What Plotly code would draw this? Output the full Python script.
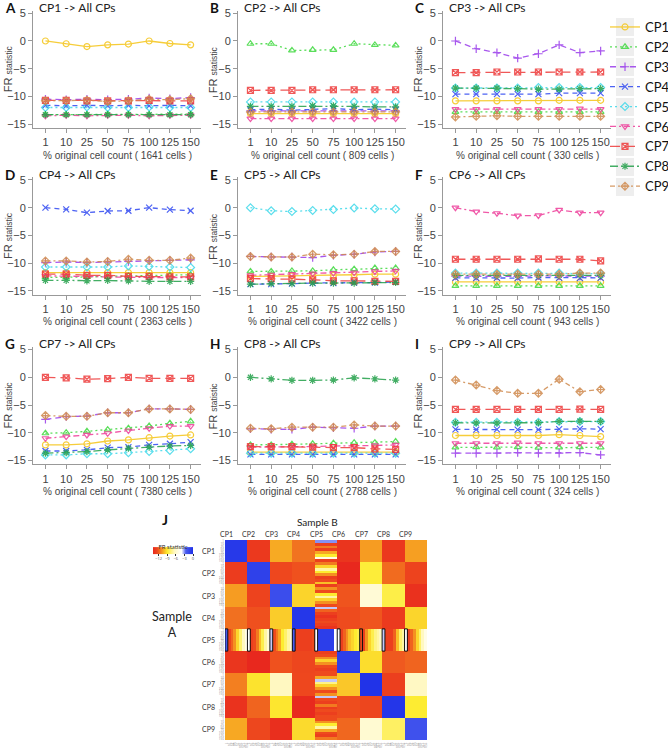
import plotly.graph_objects as go

# ---------------- data ----------------
sizes = ["1", "10", "25", "50", "75", "100", "125", "150"]
cps = ["CP1", "CP2", "CP3", "CP4", "CP5", "CP6", "CP7", "CP8", "CP9"]
cell_counts = [1641, 809, 330, 2363, 3422, 943, 7380, 2788, 324]
panel_letters = ["A", "B", "C", "D", "E", "F", "G", "H", "I"]

# FR statistic: one list per compared CP (CP1..CP9), one value per sample size
cp1_to_all = [
    [0.0, -0.5, -1.0, -0.7, -0.55, 0.0, -0.45, -0.7],
    [-13.3, -13.3, -13.3, -13.2, -13.2, -13.3, -13.3, -13.2],
    [-10.5, -10.6, -10.5, -10.6, -10.5, -10.3, -10.4, -10.2],
    [-11.6, -11.7, -11.6, -11.7, -11.6, -11.7, -11.6, -11.7],
    [-12.0, -12.0, -11.9, -12.0, -12.0, -11.9, -12.0, -12.0],
    [-13.5, -13.4, -13.5, -13.4, -13.4, -13.5, -13.4, -13.4],
    [-10.7, -10.7, -10.8, -10.8, -10.8, -10.7, -10.8, -10.8],
    [-13.3, -13.3, -13.3, -13.3, -13.3, -13.3, -13.3, -13.3],
    [-10.8, -10.8, -10.7, -10.9, -10.8, -10.5, -10.6, -10.4],
]
cp2_to_all = [
    [-13.1, -13.1, -13.1, -13.1, -13.1, -13.1, -13.1, -13.1],
    [-0.5, -0.5, -1.7, -1.6, -1.6, -0.5, -0.7, -0.8],
    [-12.6, -12.6, -12.7, -12.6, -12.6, -12.6, -12.7, -12.6],
    [-12.4, -12.3, -12.5, -12.3, -12.2, -12.4, -12.3, -12.4],
    [-11.0, -11.0, -11.0, -11.0, -11.0, -11.0, -11.0, -11.0],
    [-14.0, -14.0, -14.0, -14.0, -14.0, -14.0, -14.0, -14.0],
    [-8.9, -8.9, -8.9, -8.8, -8.8, -8.8, -8.8, -8.8],
    [-11.8, -11.8, -11.8, -11.7, -11.7, -11.8, -11.9, -11.9],
    [-12.8, -12.8, -12.8, -12.8, -12.8, -12.8, -12.8, -12.8],
]
cp3_to_all = [
    [-10.8, -10.8, -10.8, -10.8, -10.8, -10.7, -10.7, -10.7],
    [-12.8, -12.8, -12.8, -12.8, -12.8, -12.8, -12.8, -12.8],
    [0.0, -1.4, -2.1, -3.1, -2.3, -0.7, -2.1, -1.8],
    [-9.6, -9.6, -9.6, -9.6, -9.6, -9.4, -9.4, -9.4],
    [-8.5, -8.5, -8.5, -8.5, -8.4, -8.4, -8.4, -8.4],
    [-12.3, -12.3, -12.3, -12.3, -12.3, -12.3, -12.2, -12.3],
    [-5.7, -5.7, -5.6, -5.6, -5.6, -5.6, -5.6, -5.6],
    [-8.5, -8.5, -8.5, -8.6, -8.7, -8.7, -8.6, -8.6],
    [-13.7, -13.6, -13.5, -13.6, -13.6, -13.6, -13.6, -13.6],
]
cp4_to_all = [
    [-11.7, -11.7, -11.7, -11.7, -11.7, -11.7, -11.7, -11.7],
    [-12.6, -12.6, -12.5, -12.4, -12.3, -12.3, -12.2, -12.1],
    [-9.9, -9.8, -9.9, -9.8, -9.7, -9.6, -9.5, -9.4],
    [0.0, -0.3, -0.9, -0.6, -0.55, 0.0, -0.35, -0.55],
    [-10.7, -10.7, -10.7, -10.7, -10.5, -10.6, -10.7, -10.8],
    [-12.3, -12.3, -12.4, -12.5, -12.6, -12.6, -12.6, -12.6],
    [-12.0, -12.0, -12.2, -12.2, -12.4, -12.4, -12.5, -12.5],
    [-13.1, -13.1, -13.2, -13.1, -13.2, -13.3, -13.3, -13.3],
    [-9.6, -9.6, -9.8, -9.7, -9.3, -9.5, -9.5, -9.1],
]
cp5_to_all = [
    [-12.4, -12.4, -12.3, -12.2, -12.2, -12.1, -12.0, -12.0],
    [-11.5, -11.5, -11.4, -11.4, -11.2, -11.1, -10.9, -10.9],
    [-8.8, -8.9, -8.9, -9.0, -8.6, -8.4, -8.0, -7.9],
    [-13.8, -13.8, -13.7, -13.6, -13.6, -13.5, -13.5, -13.4],
    [0.0, -0.55, -0.7, -0.5, -0.35, -0.05, -0.2, -0.25],
    [-12.2, -12.1, -12.0, -11.9, -11.8, -11.7, -11.5, -11.4],
    [-12.8, -12.8, -12.9, -13.0, -13.2, -13.2, -13.3, -13.3],
    [-13.8, -13.7, -13.7, -13.6, -13.6, -13.6, -13.5, -13.5],
    [-8.8, -8.9, -8.9, -8.4, -8.5, -8.4, -7.9, -7.9],
]
cp6_to_all = [
    [-13.4, -13.4, -13.4, -13.4, -13.4, -13.4, -13.4, -13.4],
    [-14.1, -14.1, -14.1, -14.1, -14.1, -14.1, -14.1, -14.1],
    [-12.35, -12.4, -12.35, -12.4, -12.3, -12.35, -12.4, -12.35],
    [-12.65, -12.7, -12.65, -12.7, -12.6, -12.65, -12.7, -12.65],
    [-11.8, -11.8, -11.8, -11.8, -11.8, -11.8, -11.9, -11.9],
    [0.0, -0.7, -1.0, -1.45, -1.4, -0.4, -0.9, -0.9],
    [-9.3, -9.3, -9.3, -9.3, -9.25, -9.3, -9.3, -9.6],
    [-12.2, -12.2, -12.2, -12.2, -12.2, -12.2, -12.1, -12.2],
    [-12.0, -12.0, -12.0, -12.0, -12.0, -12.0, -11.8, -11.8],
]
cp7_to_all = [
    [-12.2, -12.2, -12.0, -11.5, -11.3, -10.9, -10.6, -10.4],
    [-10.1, -10.0, -9.75, -9.45, -9.2, -8.8, -8.3, -7.95],
    [-7.6, -7.1, -7.0, -6.4, -6.4, -5.7, -5.7, -5.8],
    [-13.3, -13.3, -13.1, -12.7, -12.6, -12.2, -12.0, -11.7],
    [-14.0, -14.0, -13.8, -13.8, -13.6, -13.4, -13.2, -12.9],
    [-11.0, -10.7, -10.4, -10.1, -9.6, -9.2, -8.8, -8.8],
    [0.0, -0.1, -0.35, -0.25, 0.0, -0.2, -0.2, -0.2],
    [-13.7, -13.6, -13.4, -13.1, -12.8, -12.6, -12.4, -12.3],
    [-6.9, -7.05, -7.05, -6.4, -6.4, -5.7, -5.7, -5.8],
]
cp8_to_all = [
    [-13.5, -13.5, -13.5, -13.5, -13.5, -13.5, -13.5, -13.5],
    [-12.2, -12.2, -12.1, -12.0, -11.9, -11.8, -11.8, -11.6],
    [-9.3, -9.4, -9.4, -9.0, -9.1, -9.2, -8.8, -8.8],
    [-13.9, -13.9, -13.9, -13.9, -13.9, -13.9, -13.9, -13.9],
    [-13.7, -13.7, -13.7, -13.7, -13.7, -13.7, -13.7, -13.7],
    [-12.6, -12.6, -12.5, -12.5, -12.4, -12.4, -12.3, -12.2],
    [-12.5, -12.5, -12.5, -12.6, -12.7, -12.7, -12.9, -13.0],
    [0.0, -0.3, -0.55, -0.55, -0.5, -0.1, -0.3, -0.5],
    [-9.2, -9.3, -9.0, -9.0, -9.0, -8.6, -8.8, -8.8],
]
cp9_to_all = [
    [-10.5, -10.5, -10.5, -10.5, -10.5, -10.35, -10.5, -10.7],
    [-12.65, -12.6, -12.65, -12.6, -12.7, -12.65, -12.6, -12.65],
    [-13.7, -13.7, -13.7, -13.6, -13.7, -13.7, -13.6, -14.0],
    [-9.4, -9.45, -9.4, -9.45, -9.45, -9.35, -9.3, -9.35],
    [-8.1, -8.1, -8.1, -8.1, -8.1, -8.0, -8.0, -8.0],
    [-11.9, -11.9, -11.9, -11.8, -11.9, -11.9, -11.9, -11.9],
    [-5.8, -5.8, -5.8, -5.8, -5.8, -5.8, -5.75, -5.8],
    [-8.2, -8.25, -8.25, -8.2, -8.2, -7.95, -7.9, -7.95],
    [-0.5, -1.4, -2.4, -2.9, -2.9, -0.35, -2.6, -2.2],
]
panels = [cp1_to_all, cp2_to_all, cp3_to_all, cp4_to_all, cp5_to_all,
          cp6_to_all, cp7_to_all, cp8_to_all, cp9_to_all]

# heatmap (panel J): striped CP5 column (per sub-row) and CP5 row (per sub-column)
cp5_column_stripes = [
    [-3.0, -13.0, -11.5, -13.0, -10.5, -9.0, -5.0, -13.0],
    [-11.5, -9.5, -7.0, -9.0, -11.0, -13.0, -12.5, -10.0],
    [-13.0, -11.0, -12.5, -9.0, -7.0, -9.5, -11.0, -12.5],
    [-3.5, -12.0, -13.0, -13.5, -13.0, -12.5, -13.0, -13.5],
    [-1.0, -1.0, -1.0, -1.0, -1.0, -1.0, -1.0, -4.0],
    [-13.0, -12.5, -11.0, -9.5, -11.0, -12.5, -13.0, -12.5],
    [-12.5, -10.5, -3.5, -7.5, -9.5, -11.0, -12.5, -11.0],
    [-3.5, -12.5, -13.0, -11.5, -13.0, -12.5, -13.0, -12.5],
    [-12.5, -11.0, -9.0, -7.0, -10.5, -12.5, -13.0, -11.5],
]
cp5_row_gradient = [
    [-2.5, -13.0, -12.0, -11.0, -9.5, -8.0, -6.5, -5.0],
    [-4.0, -13.0, -12.5, -11.5, -10.0, -8.5, -7.0, -5.5],
    [-3.5, -12.5, -11.5, -10.5, -9.0, -8.0, -7.0, -6.0],
    [-2.5, -13.0, -13.0, -13.0, -13.0, -13.0, -13.0, -12.5],
    [-4.0, -0.8, -0.8, -0.8, -0.8, -0.8, -0.8, -4.0],
    [-4.0, -13.0, -12.0, -11.0, -10.0, -9.5, -9.0, -8.5],
    [-12.5, -13.0, -11.0, -9.5, -8.5, -7.5, -7.0, -6.5],
    [-3.5, -13.0, -13.0, -13.0, -12.0, -10.0, -8.0, -7.0],
    [-4.0, -13.0, -12.0, -11.0, -9.5, -8.0, -6.5, -5.0],
]

# ---------------- styles ----------------
colors = ["#F5C518", "#3FD93F", "#9A3CEB", "#2F48F2", "#3ED9EA",
          "#EE3D9A", "#EE3B3B", "#23A04A", "#D08A4E"]
symbols = ["circle-open", "triangle-up-open", "cross-thin-open", "x-thin-open",
           "diamond-open", "triangle-down-open", "square-x-open",
           "asterisk-open", "diamond-cross-open"]
dashes = ["solid", "2px,3px", "6px,4px", "5px,4px", "2px,3px",
          "6px,3px,2px,3px", "10px,5px", "8px,3px,2px,3px", "5px,3px,2px,3px"]

W, H = 668, 748
col_left = [33, 238, 443]
row_top = [10.5, 177.2, 346.8]
pw, ph = 168, 117.5


def xd(l, w):
    return [l / W, (l + w) / W]


def yd(t, h):
    return [1 - (t + h) / H, 1 - t / H]


fig = go.Figure()
xs = list(range(1, len(sizes) + 1))
annotations = []
shapes = []
axis_font = dict(family="Liberation Sans, Arial", size=11, color="#444")

for k, panel in enumerate(panels):
    ax = "" if k == 0 else str(k + 1)
    for j, series in enumerate(panel):
        fig.add_trace(go.Scatter(
            x=xs, y=series, xaxis="x" + ax, yaxis="y" + ax,
            mode="lines+markers", name=cps[j], legendgroup=cps[j],
            showlegend=(k == 0), opacity=0.85,
            line=dict(color=colors[j], width=1.3, dash=dashes[j]),
            marker=dict(symbol=symbols[j], size=6, color=colors[j],
                        line=dict(width=1.2, color=colors[j])),
        ))
    r, c = divmod(k, 3)
    fig.layout["xaxis" + ax] = dict(
        domain=xd(col_left[c], pw), anchor="y" + ax, range=[0.4, 8.5],
        tickvals=xs, ticktext=sizes, showgrid=False, zeroline=False,
        showline=True, linecolor="#999", linewidth=1, ticks="outside",
        ticklen=4, tickcolor="#999", tickfont=axis_font)
    fig.layout["yaxis" + ax] = dict(
        domain=yd(row_top[r], ph), anchor="x" + ax, range=[-15.7, 5.5],
        tickvals=[-15, -10, -5, 0, 5], showgrid=False, zeroline=False,
        showline=True, linecolor="#999", linewidth=1, ticks="outside",
        ticklen=4, tickcolor="#999", tickfont=axis_font)
    xr = ("x" + ax) + " domain"
    yr = ("y" + ax) + " domain"
    annotations += [
        dict(text=f"{cps[k]} -> All CPs", xref=xr, yref=yr, x=0, y=1,
             xanchor="left", yanchor="middle", xshift=4, yshift=3,
             showarrow=False, font=dict(family="Lato", size=12, color="#222")),
        dict(text=panel_letters[k], xref="paper", yref=yr,
             x=(col_left[c] - 30) / W, y=1, xanchor="left", yanchor="middle",
             yshift=2.5, showarrow=False,
             font=dict(family="Lato", size=13.5, color="#111", weight="bold")),
        dict(text="FR <span style='font-size:8.5px'>statistic</span>",
             xref=xr, yref=yr, x=0, y=0.5, xshift=-25, textangle=-90,
             xanchor="center", yanchor="middle", showarrow=False,
             font=dict(family="Liberation Sans, Arial", size=11, color="#444")),
        dict(text=f"% original cell count ( {cell_counts[k]} cells )",
             xref=xr, yref=yr, x=0.5, y=0, yshift=-27, xanchor="center",
             yanchor="middle", showarrow=False,
             font=dict(family="Liberation Sans, Arial", size=10, color="#444")),
    ]

# ---------------- heatmap ----------------
n = len(cps)
m = len(sizes)
z = []
for i in range(n):
    for rr in range(m):
        row = []
        for j in range(n):
            block_mean = sum(panels[i][j]) / m
            for s in range(m):
                if i == 4:
                    row.append(cp5_row_gradient[j][s])
                elif j == 4:
                    row.append(cp5_column_stripes[i][rr])
                else:
                    row.append(block_mean)
        z.append(row)

cscale = [[0.0, "#E8281E"], [0.107, "#EE4A1E"], [0.179, "#F27A20"],
          [0.25, "#F7A823"], [0.357, "#FDEC30"], [0.536, "#FFF8C0"],
          [0.714, "#FFFFFF"], [0.82, "#4A5CEE"], [1.0, "#1E30E8"]]
idx = list(range(n * m))
fig.add_trace(go.Heatmap(
    z=z, x=idx, y=idx, xaxis="x10", yaxis="y10", zmin=-14, zmax=0,
    colorscale=cscale, showscale=True,
    colorbar=dict(orientation="h", x=173 / W, xanchor="center",
                  y=1 - 551 / H, yanchor="middle", len=40, lenmode="pixels",
                  thickness=7, outlinewidth=0, ticks="outside", ticklen=2,
                  tickcolor="#333", xpad=0, ypad=0,
                  tickvals=[-12, -9, -6, -3, 0], tickfont=dict(size=4, color="#555"),
                  title=dict(text="FR statistic", side="top",
                             font=dict(size=6, family="Lato", color="#333"))),
))
fig.layout["xaxis10"] = dict(
    domain=xd(225, 202), anchor="y10", range=[-0.5, n * m - 0.5],
    tickvals=idx, ticktext=sizes * n, tickfont=dict(size=3, color="#888"),
    ticks="", showgrid=False, zeroline=False, showline=False)
fig.layout["yaxis10"] = dict(
    domain=yd(540, 200), anchor="x10", range=[n * m - 0.5, -0.5],
    tickvals=idx, ticktext=sizes * n, tickfont=dict(size=3, color="#888"),
    ticks="", showgrid=False, zeroline=False, showline=False)

for j in range(n):
    annotations.append(dict(text=cps[j], xref="x10", yref="y10 domain",
                            x=j * m, y=1, yshift=6, xanchor="center",
                            yanchor="middle", showarrow=False,
                            font=dict(family="Lato", size=7, color="#333")))
    annotations.append(dict(text=cps[j], xref="x10 domain", yref="y10",
                            x=0, y=j * m + (m - 1) / 2, xshift=-17,
                            xanchor="center", yanchor="middle", showarrow=False,
                            font=dict(family="Lato", size=7, color="#333")))
    # outlined first sub-column of each block in the CP5 row
    shapes.append(dict(type="rect", xref="x10", yref="y10",
                       x0=j * m - 0.5, x1=j * m + 0.5,
                       y0=4 * m - 0.5, y1=5 * m - 0.5,
                       line=dict(color="#111", width=1)))
    # light grey boxes behind legend symbols
    shapes.append(dict(type="rect", xref="paper", yref="paper", layer="below",
                       x0=616 / W, x1=634 / W,
                       y0=1 - (36 + 20 * j) / H, y1=1 - (18 + 20 * j) / H,
                       fillcolor="#EEEEEE", line=dict(width=0)))

annotations += [
    dict(text="Sample B", xref="paper", yref="paper", x=317 / W, y=1 - 522 / H,
         xanchor="center", yanchor="middle", showarrow=False,
         font=dict(family="Lato", size=10, color="#222")),
    dict(text="Sample<br>A", xref="paper", yref="paper", x=172 / W, y=1 - 624 / H,
         xanchor="center", yanchor="middle", showarrow=False,
         font=dict(family="Lato", size=12.5, color="#222")),
    dict(text="J", xref="paper", yref="paper", x=160 / W, y=1 - 519 / H,
         xanchor="left", yanchor="middle", showarrow=False,
         font=dict(family="Lato", size=14, color="#111", weight="bold")),
]

fig.update_layout(
    width=W, height=H,
    margin=dict(l=0, r=0, t=0, b=0, autoexpand=False),
    paper_bgcolor="white", plot_bgcolor="white",
    annotations=annotations, shapes=shapes,
    legend=dict(x=605 / W, y=1 - 12 / H, xanchor="left", yanchor="top",
                font=dict(family="Lato", size=13, color="#111"),
                bgcolor="rgba(0,0,0,0)", itemwidth=30, tracegroupgap=0),
)
fig.write_html("out.html", config={"displayModeBar": False},
               post_script="document.body.style.margin='0';"
                           "document.body.style.overflow='hidden';")
